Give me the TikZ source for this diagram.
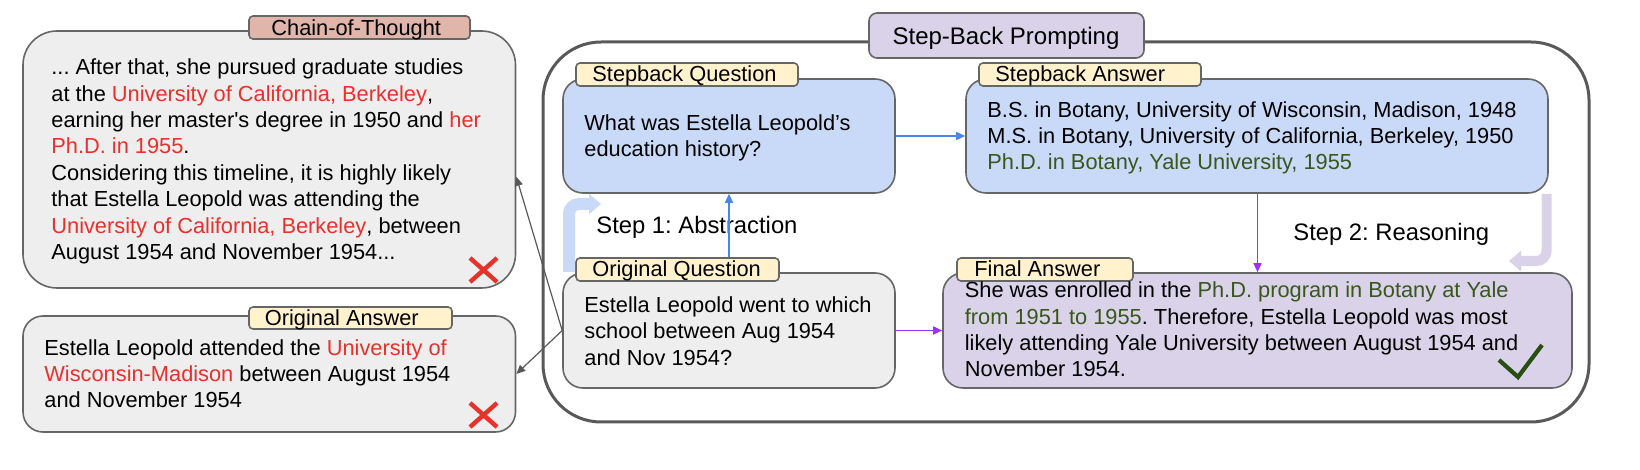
\documentclass[tikz,border=0pt]{standalone}
\usepackage{fontspec}
\setmainfont{Liberation Sans}
\newfontfamily\straightq{Liberation Sans}
\usetikzlibrary{fit,arrows.meta,calc}
\definecolor{boxgray}{HTML}{EEEEEE}
\definecolor{boxblue}{HTML}{C9DAF8}
\definecolor{boxlav}{HTML}{D9D2E9}
\definecolor{labcream}{HTML}{FFF2CC}
\definecolor{labpink}{HTML}{E0B5AA}
\definecolor{edgegray}{HTML}{666666}
\definecolor{outergray}{HTML}{595959}
\definecolor{txtred}{HTML}{E8312A}
\definecolor{txtgreen}{HTML}{38571A}
\definecolor{chkgreen}{HTML}{274E13}
\definecolor{arrblue}{HTML}{4A86E8}
\definecolor{arrpurple}{HTML}{9933FF}
\newcommand{\rd}[1]{\textcolor{txtred}{#1}}
\newcommand{\gr}[1]{\textcolor{txtgreen}{#1}}
\frenchspacing
\begin{document}
\begin{tikzpicture}[x=0.5pt,y=-0.5pt,
  panel/.style={draw=edgegray, line width=0.8pt, inner sep=0pt, rounded corners=10pt},
  tag/.style={draw=edgegray, line width=0.8pt, inner sep=0pt, rounded corners=2pt, fill=labcream},
  tagtext/.style={anchor=base west, inner sep=0pt, font=\fontsize{10.9}{13.2}\selectfont\frenchspacing},
  body/.style={anchor=base west, inner sep=0pt, align=left, font=\fontsize{10.9}{13.2}\selectfont\frenchspacing},
  steptext/.style={anchor=base west, inner sep=0pt, font=\fontsize{11.9}{14}\selectfont\frenchspacing},
  link/.style={line width=0.75pt, -{Triangle[length=4.5pt,width=4pt]}},
  cross/.style={txtred, line width=2.2pt},
  bentarrow/.style={rounded corners=5pt, -{Triangle[length=6pt,width=10pt]}},
]
\useasboundingbox (0,0) rectangle (1640,470);

% outer frame and title
\node[panel, draw=outergray, line width=1.5pt, rounded corners=29pt, fit={(543,42)(1589,422)}] (outer) {};
\node[panel, fill=boxlav, rounded corners=4pt, fit={(869,13)(1144,58)}] (title) {};
\node[inner sep=0pt, anchor=base, font=\fontsize{12}{14}\selectfont] (titletext) at (1006,45) {Step-Back Prompting};

% Chain-of-Thought (body nodes are anchored at the baseline of their last line)
\node[panel, fill=boxgray, rounded corners=17pt, fit={(23,31)(515.5,288)}] (cot) {};
\node[tag, fill=labpink, fit={(249,16)(470,39)}] (cotlab) {};
\node[tagtext] (cotlabtext) at (271,36) {Chain-of-Thought};
\node[body] (cottext) at (51,259.5) {... After that, she pursued graduate studies\\
at the \rd{University of California, Berkeley},\\
earning her master{\straightq'}s degree in 1950 and \rd{her}\\
\rd{Ph.D. in 1955}.\\
Considering this timeline, it is highly likely\\
that Estella Leopold was attending the\\
\rd{University of California, Berkeley}, between\\
August 1954 and November 1954...};
\draw[cross] (470,258) -- (497,282) (470,282) -- (497,258);

% Original Answer
\node[panel, fill=boxgray, fit={(23,316)(515.5,432)}] (oa) {};
\node[tag, fit={(249,307)(452,329)}] (oalab) {};
\node[tagtext] (oalabtext) at (264.5,326) {Original Answer};
\node[body] (oatext) at (44,408) {Estella Leopold attended the \rd{University of}\\
\rd{Wisconsin-Madison} between August 1954\\
and November 1954};
\draw[cross] (470,403) -- (497,427) (470,427) -- (497,403);

% Stepback Question
\node[panel, fill=boxblue, fit={(563,79)(895,193)}] (sq) {};
\node[tag, fit={(576,63)(798,86)}] (sqlab) {};
\node[tagtext] (sqlabtext) at (592,82) {Stepback Question};
\node[body] (sqtext) at (584,157) {What was Estella Leopold’s\\education history?};

% Stepback Answer
\node[panel, fill=boxblue, fit={(966,79)(1548,193)}] (sa) {};
\node[tag, fit={(979,63)(1201,86)}] (salab) {};
\node[tagtext] (salabtext) at (995,82) {Stepback Answer};
\node[body] (satext) at (987,170) {B.S. in Botany, University of Wisconsin, Madison, 1948\\
M.S. in Botany, University of California, Berkeley, 1950\\
\gr{Ph.D. in Botany, Yale University, 1955}};

% Original Question
\node[panel, fill=boxgray, fit={(563,273)(895,388)}] (oq) {};
\node[tag, fit={(576,258)(779,281)}] (oqlab) {};
\node[tagtext] (oqlabtext) at (592,277) {Original Question};
\node[body] (oqtext) at (584,365) {Estella Leopold went to which\\school between Aug 1954\\and Nov 1954?};

% Final Answer
\node[panel, fill=boxlav, fit={(943,273)(1572,388)}] (fa) {};
\node[tag, fit={(957,258)(1133,281)}] (falab) {};
\node[tagtext] (falabtext) at (974,277) {Final Answer};
\node[body] (fatext) at (964.5,377) {She was enrolled in the \gr{Ph.D. program in Botany at Yale}\\
\gr{from 1951 to 1955}. Therefore, Estella Leopold was most\\
likely attending Yale University between August 1954 and\\
November 1954.};
\draw[chkgreen, line width=2.1pt] (1499,360) -- (1518,377) -- (1542,345);

% step labels
\node[steptext] (s1) at (596,234) {Step 1: Abstraction};
\node[steptext] (s2) at (1293,241) {Step 2: Reasoning};

% bent decorative arrows
\draw[boxblue, line width=6pt, bentarrow] (569,272) -- (569,204) -- (601,204);
\draw[boxlav, line width=5pt, bentarrow] (1546.5,194) -- (1546.5,261) -- (1509,261);

% connectors
\coordinate (upx) at (729,0);
\coordinate (downx) at (1257.5,0);
\draw[link, arrblue] (sq.east) -- (sa.west);
\draw[link, arrblue] (oqlab.north -| upx) -- (sq.south -| upx);
\draw[link, arrpurple] (sa.south -| downx) -- (fa.north -| downx);
\draw[link, arrpurple] (oq.east) -- (fa.west);
\draw[link, outergray, line width=0.6pt] (oq.west) -- (cot.-4.3);
\draw[link, outergray, line width=0.6pt] (oq.west) -- (oa.east);
\end{tikzpicture}
\end{document}
